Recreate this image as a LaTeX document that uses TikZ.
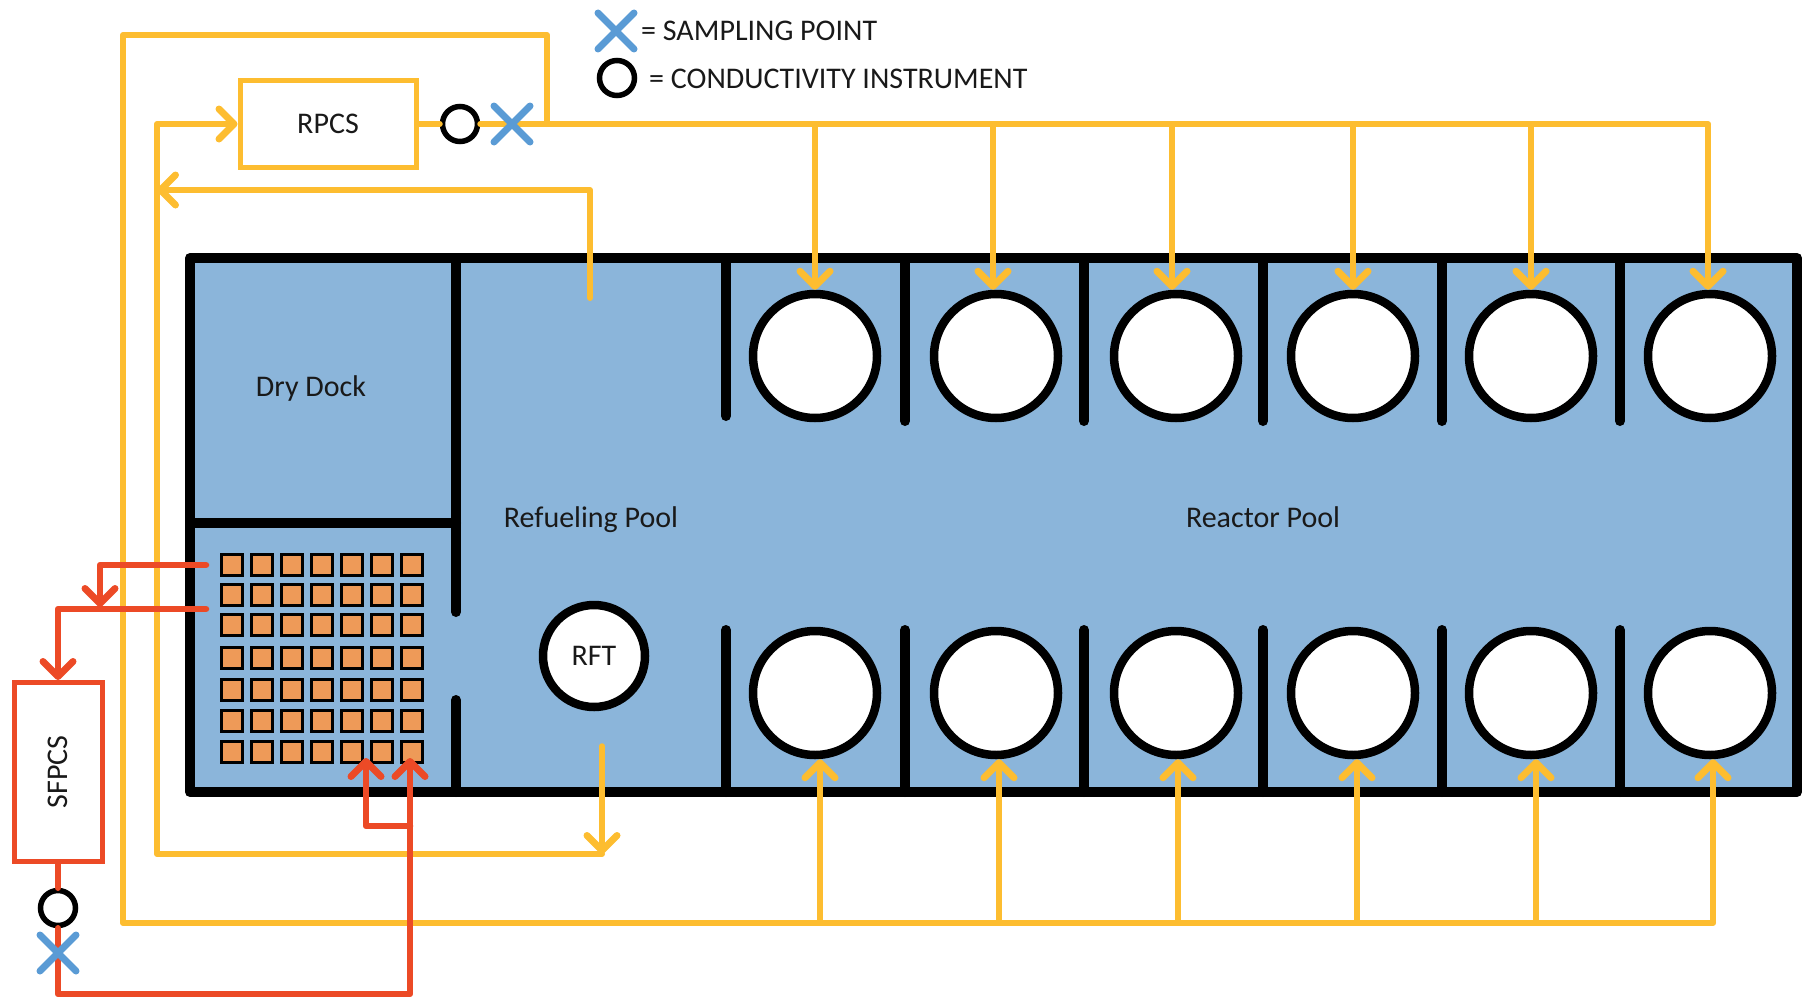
\documentclass[tikz,border=0pt]{standalone}
\usepackage{fontspec}
\setmainfont{Carlito}
\usetikzlibrary{arrows.meta,shapes.misc}

\definecolor{pool}{HTML}{8BB5DA}
\definecolor{wire}{HTML}{FDBD30}
\definecolor{spent}{HTML}{EC4A26}
\definecolor{mark}{HTML}{5A9BD5}
\definecolor{fuel}{HTML}{EE9A58}

\tikzset{
  >={Straight Barb[length=15pt,width=30pt,line width=7pt,round]},
  every node/.style={font=\fontsize{30}{34}\selectfont, text=black!90},
  yline/.style={draw=wire, line width=6pt, line cap=round, line join=round},
  ybranch/.style={draw=wire, line width=5.5pt},
  rline/.style={draw=spent, line width=6.5pt, line cap=round, line join=round},
  wall/.style={line width=10pt, line cap=round},
  cell/.style={circle, draw=black, fill=white, line width=8.5pt, minimum size=124pt, inner sep=0pt},
  meter/.style={circle, draw=black, fill=white, line width=5.5pt, minimum size=35pt, inner sep=0pt},
  sample/.style={cross out, draw=mark, line width=7pt, line cap=round, minimum size=29pt, inner sep=0pt},
  fuelbox/.style={draw=black, fill=fuel, line width=2.5pt, minimum size=21pt, inner sep=0pt},
}

\begin{document}
\begin{tikzpicture}[x=1pt, y=-1pt]
  \useasboundingbox (0,0) rectangle (1802,998);
  % pool
  \filldraw [draw=black, fill=pool, line width=10pt, line join=round] (190,258) rectangle (1797,792);
  \draw [wall] (190,523)--(456,523);
  \draw [wall] (456,258)--(456,612);
  \draw [wall] (456,700)--(456,792);
  \draw [wall] (726,258)--(726,416);
  \draw [wall] (905,258)--(905,421);
  \draw [wall] (1084,258)--(1084,421);
  \draw [wall] (1263,258)--(1263,421);
  \draw [wall] (1442,258)--(1442,421);
  \draw [wall] (1620,258)--(1620,421);
  \draw [wall] (726,630)--(726,792);
  \draw [wall] (905,630)--(905,792);
  \draw [wall] (1084,630)--(1084,792);
  \draw [wall] (1263,630)--(1263,792);
  \draw [wall] (1442,630)--(1442,792);
  \draw [wall] (1620,630)--(1620,792);
  %
  \node (DD) at (311,388) {Dry Dock};
  \node (RFP) at (591,520) {Refueling Pool};
  \node (RP) at (1263,517) {Reactor Pool};
  \node [cell, minimum size=102pt] (RFT) at (594,656) {RFT};
  %
  \node [cell] (U1) at (815,356) {};
  \node [cell] (U2) at (996,356) {};
  \node [cell] (U3) at (1176,356) {};
  \node [cell] (U4) at (1353,356) {};
  \node [cell] (U5) at (1531,356) {};
  \node [cell] (U6) at (1710,356) {};
  \node [cell] (L1) at (815,693) {};
  \node [cell] (L2) at (996,693) {};
  \node [cell] (L3) at (1176,693) {};
  \node [cell] (L4) at (1353,693) {};
  \node [cell] (L5) at (1531,693) {};
  \node [cell] (L6) at (1710,693) {};
  % fuel racks
  \foreach \y [count=\r] in {565,595,625,658,690,721,752}
    \foreach \x [count=\c] in {232,262,292,322,352,382,412}
      \node [fuelbox] (F\r\c) at (\x,\y) {};
  %
  \node [draw=wire, fill=white, line width=5pt, minimum width=176pt, minimum height=86pt] (RPCS) at (328,124) {RPCS};
  \node [draw=spent, fill=white, line width=5pt, minimum width=88pt, minimum height=179pt] (SFPCS) at (58,772) {\rotatebox{90}{SFPCS}};
  \node [meter] (CR) at (460,124) {};
  \node [meter] (CS) at (58,908) {};
  \coordinate (XR) at (512,124);
  \coordinate (XS) at (58,953);
  % RPCS supply
  \coordinate (TJ) at (547,124);
  \coordinate (OL) at (123,35);
  \coordinate (T1) at (815,124);
  \coordinate (T2) at (993,124);
  \coordinate (T3) at (1172,124);
  \coordinate (T4) at (1353,124);
  \coordinate (T5) at (1531,124);
  \coordinate (T6) at (1708,124);
  \coordinate (B1) at (820,923);
  \coordinate (B2) at (999,923);
  \coordinate (B3) at (1178,923);
  \coordinate (B4) at (1357,923);
  \coordinate (B5) at (1536,923);
  \coordinate (B6) at (1713,923);
  \draw [yline] (RPCS)--(CR);
  \draw [yline] (CR)--(XR)--(T6);
  \draw [yline] (TJ) |- (OL) |- (B6);
  \draw [ybranch, ->] (T1)--(T1 |- U1.north);
  \draw [ybranch, ->] (T2)--(T2 |- U2.north);
  \draw [ybranch, ->] (T3)--(T3 |- U3.north);
  \draw [ybranch, ->] (T4)--(T4 |- U4.north);
  \draw [ybranch, ->] (T5)--(T5 |- U5.north);
  \draw [ybranch, ->] (T6)--(T6 |- U6.north);
  \draw [ybranch, ->] (B1)--(B1 |- L1.south);
  \draw [ybranch, ->] (B2)--(B2 |- L2.south);
  \draw [ybranch, ->] (B3)--(B3 |- L3.south);
  \draw [ybranch, ->] (B4)--(B4 |- L4.south);
  \draw [ybranch, ->] (B5)--(B5 |- L5.south);
  \draw [ybranch, ->] (B6)--(B6 |- L6.south);
  % RPCS return
  \coordinate (P1) at (602,746);
  \coordinate (P2) at (602,854);
  \coordinate (P3) at (590,298);
  \coordinate (I2) at (157,124);
  \coordinate (I3) at (157,190);
  \draw [ybranch, line cap=round, ->] (P1)--(P2);
  \draw [yline, ->] (P2) -| (I2)--(RPCS.west);
  \draw [yline, ->] (P3) |- (I3);
  % SFPCS loop
  \coordinate (S1) at (206,565);
  \coordinate (S2) at (100,607);
  \coordinate (S3) at (206,609);
  \coordinate (R0) at (410,994);
  \coordinate (R1) at (410,758);
  \coordinate (R2) at (410,826);
  \coordinate (R3) at (366,758);
  \draw [rline, ->] (S1) -| (S2);
  \draw [rline, ->] (S3) -| (SFPCS.north);
  \draw [rline] (SFPCS)--(CS);
  \draw [rline] (CS)--(XS);
  \draw [rline, ->] (XS) |- (R0)--(R1);
  \draw [rline, ->] (R2) -| (R3);
  %
  \node [sample] (XRM) at (XR) {};
  \node [sample] (XSM) at (XS) {};
  % key
  \node [sample] (KX) at (616,31) {};
  \node [meter] (KC) at (617,78) {};
  \node [right, inner sep=0pt] (KXT) at (641,31) {= SAMPLING POINT};
  \node [right, inner sep=0pt] (KCT) at (649,79) {= CONDUCTIVITY INSTRUMENT};
\end{tikzpicture}
\end{document}
